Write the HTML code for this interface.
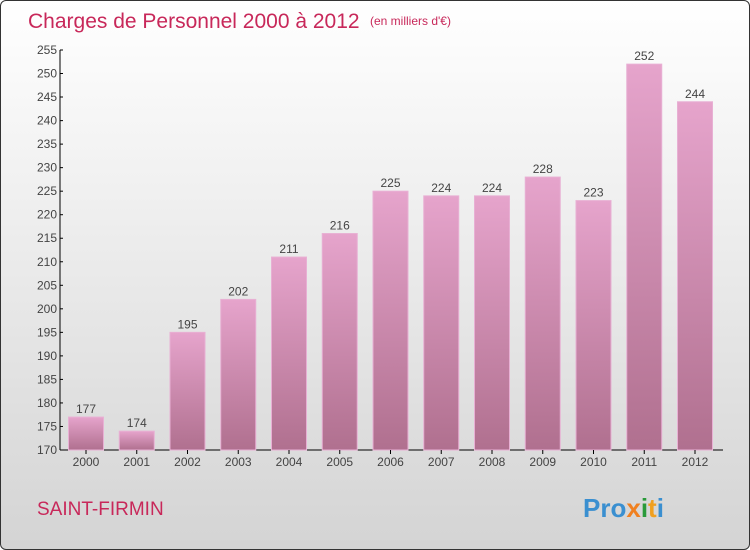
<!DOCTYPE html>
<html><head><meta charset="utf-8"><style>
html,body{margin:0;padding:0}
#c{position:relative;width:748px;height:548px;border:1px solid #333;border-radius:6px;background:linear-gradient(#ffffff,#d4d4d4);overflow:hidden;font-family:"Liberation Sans",sans-serif}
</style></head><body>
<div id="c">
<svg width="748" height="548" id="svg">
<defs><linearGradient id="bg" x1="0" y1="0" x2="0" y2="1"><stop offset="0" stop-color="#e6a4cc"/><stop offset="1" stop-color="#b0708f"/></linearGradient></defs>
<text x="27" y="27" font-size="21" fill="#c8285a">Charges de Personnel 2000 à 2012</text>
<text x="369" y="24" font-size="12" fill="#c8285a">(en milliers d'€)</text>
<text x="36" y="514" font-size="19" fill="#c8285a">SAINT-FIRMIN</text>
<g font-size="26" font-weight="bold">
<text x="582" y="516"><tspan fill="#3a8fd0">Pro</tspan><tspan fill="#f08020">x</tspan><tspan fill="#2a9a3a">i</tspan><tspan fill="#f0a020">t</tspan><tspan fill="#3a8fd0">i</tspan></text></g>
<g id="plot"></g>
</svg></div>
<script>
const categories=["2000","2001","2002","2003","2004","2005","2006","2007","2008","2009","2010","2011","2012"];
const values=[177,174,195,202,211,216,225,224,224,228,223,252,244];
const yTicks=[170,175,180,185,190,195,200,205,210,215,220,225,230,235,240,245,250,255];
const g=document.getElementById('plot');const NS="http://www.w3.org/2000/svg";
const y0=449,y1=49,vmin=170,vmax=255;
const ys=v=>y0-(v-vmin)/(vmax-vmin)*(y0-y1);
const xs=i=>85+i*50.75;
function mk(t,a,txt){const e=document.createElementNS(NS,t);for(const k in a)e.setAttribute(k,a[k]);if(txt!=null)e.textContent=txt;g.appendChild(e);return e;}
let ax=mk('line',{x1:59,y1:y1,x2:59,y2:y0,stroke:'#000'});


let bx=mk('line',{x1:59,y1:y0,x2:722,y2:y0,stroke:'#000'});


yTicks.forEach(v=>{const y=ys(v);
 mk('line',{x1:59,y1:y,x2:62,y2:y,stroke:'#000'});
 const t=mk('text',{x:56,y:y+4,'text-anchor':'end','font-size':12,fill:'#444'},v);
 
 });
categories.forEach((c,i)=>{const x=xs(i),v=values[i];
 const r=mk('rect',{x:x-17.5,y:ys(v),width:35,height:y0-ys(v),fill:'url(#bg)',stroke:'#e8b0d4','stroke-width':1});
 
 
 mk('line',{x1:x,y1:y0,x2:x,y2:y0+4,stroke:'#000'});
 const t=mk('text',{x:x,y:y0+16,'text-anchor':'middle','font-size':12,fill:'#444'},c);
 
 
 const l=mk('text',{x:x,y:ys(v)-4,'text-anchor':'middle','font-size':12,fill:'#444'},v);
 
 });
</script>
</body></html>
